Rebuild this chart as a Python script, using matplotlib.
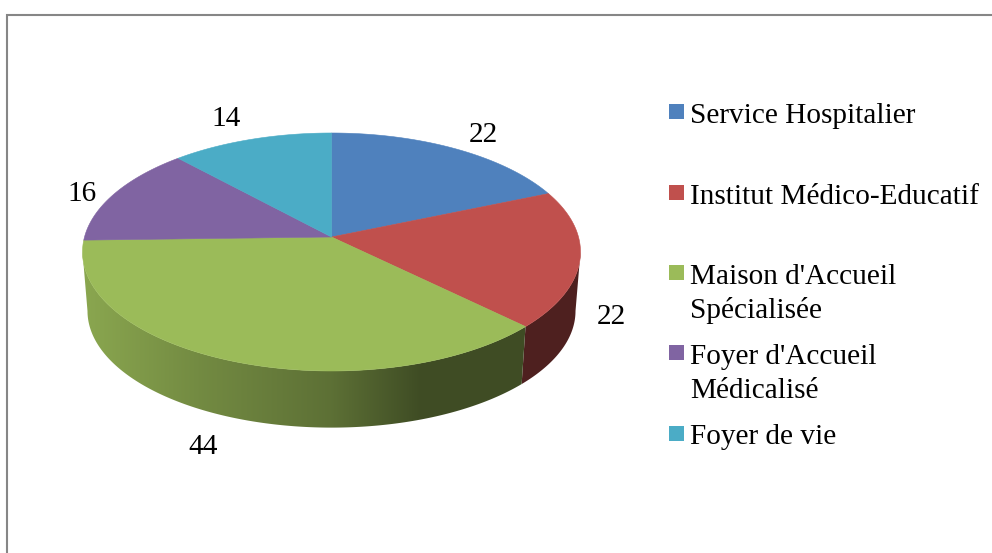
import numpy as np
import matplotlib
matplotlib.use("Agg")
import matplotlib.pyplot as plt
from matplotlib.colors import to_rgb
from matplotlib.patches import Polygon, Rectangle

# data
categories = ["Service Hospitalier", "Institut Médico-Educatif",
              "Maison d'Accueil\nSpécialisée", "Foyer d'Accueil\nMédicalisé", "Foyer de vie"]
values = [22, 22, 44, 16, 14]
colors = ["#4F81BD", "#C0504D", "#9BBB59", "#8064A2", "#4BACC6"]

# layout in pixels (y goes down)
label_pos = [(483, 135), (611, 317), (203, 447), (82, 194), (226, 119)]
legend_y = [104, 185, 265, 345, 426]
legend_base = [123, 204, 284, 364, 444]
line_gap = 34
cx, cy = 331.5, 252
rx, ry = 247, 119
apex_up = 15
k = 0.126
depth = 59
bottom_scale = 0.98
font_px = 29.3

plt.rcParams["font.family"] = ["Liberation Serif", "DejaVu Serif"]
font_size = font_px * 72 / 100


def top_rim(t):
    # the pie is seen in perspective, so the apex is not the centre of the ellipse
    c, s = np.cos(t), np.sin(t)
    w = 1 + k * c
    return cx + rx * s / w, cy - (ry * c + apex_up) / w


def bottom_rim(t):
    x, y = top_rim(t)
    return cx + (x - cx) * bottom_scale, cy + depth + (y - cy) * bottom_scale


def shade(x):
    # darkening of the side wall from left to right
    return np.interp(x, [85, 200, 331, 420, 580], [0.89, 0.74, 0.60, 0.41, 0.41])


fig = plt.figure(figsize=(9.92, 5.53), dpi=100)
ax = fig.add_axes([0, 0, 1, 1])

# chart frame, only left and top are inside the picture
ax.plot([7, 7, 992], [553, 15, 15], color="#868686", lw=1.5, solid_joinstyle="miter")

edges = np.concatenate([[0], np.cumsum(values)]) / sum(values) * 2 * np.pi

# side wall, only the part between the left and right silhouette is visible
t_side = np.arccos(-apex_up / ry)
grad_x = np.arange(70, 600)
for i in range(len(values)):
    lo = max(edges[i], t_side)
    hi = min(edges[i + 1], 2 * np.pi - t_side)
    if lo >= hi:
        continue
    ts = np.linspace(lo, hi, 200)
    xt, yt = top_rim(ts)
    xb, yb = bottom_rim(ts)
    pts = list(zip(xt, yt)) + list(zip(xb[::-1], yb[::-1]))
    wall = Polygon(pts, closed=True, transform=ax.transData)
    grad = np.outer(shade(grad_x), np.array(to_rgb(colors[i])))[np.newaxis, :, :]
    im = ax.imshow(grad, extent=(grad_x[0], grad_x[-1], 440, 130), aspect="auto",
                   interpolation="bilinear")
    im.set_clip_path(wall)

# top face
apex = (cx, cy - apex_up)
for i, col in enumerate(colors):
    ts = np.linspace(edges[i], edges[i + 1], 200)
    xs, ys = top_rim(ts)
    pts = [apex] + list(zip(xs, ys))
    ax.add_patch(Polygon(pts, closed=True, facecolor=col, edgecolor=col, lw=0.4))

# value labels
for v, (x, y) in zip(values, label_pos):
    ax.text(x, y, str(v), fontsize=font_size, ha="center", va="center", color="black")

# legend
for name, col, ys, yb in zip(categories, colors, legend_y, legend_base):
    ax.add_patch(Rectangle((669, ys), 15, 15, facecolor=col, edgecolor="none"))
    for j, part in enumerate(name.split("\n")):
        ax.text(690, yb + j * line_gap, part, fontsize=font_size, ha="left",
                va="baseline", color="black")

ax.set_xlim(0, 992)
ax.set_ylim(553, 0)
ax.axis("off")

fig.savefig("out.png", dpi=100)
